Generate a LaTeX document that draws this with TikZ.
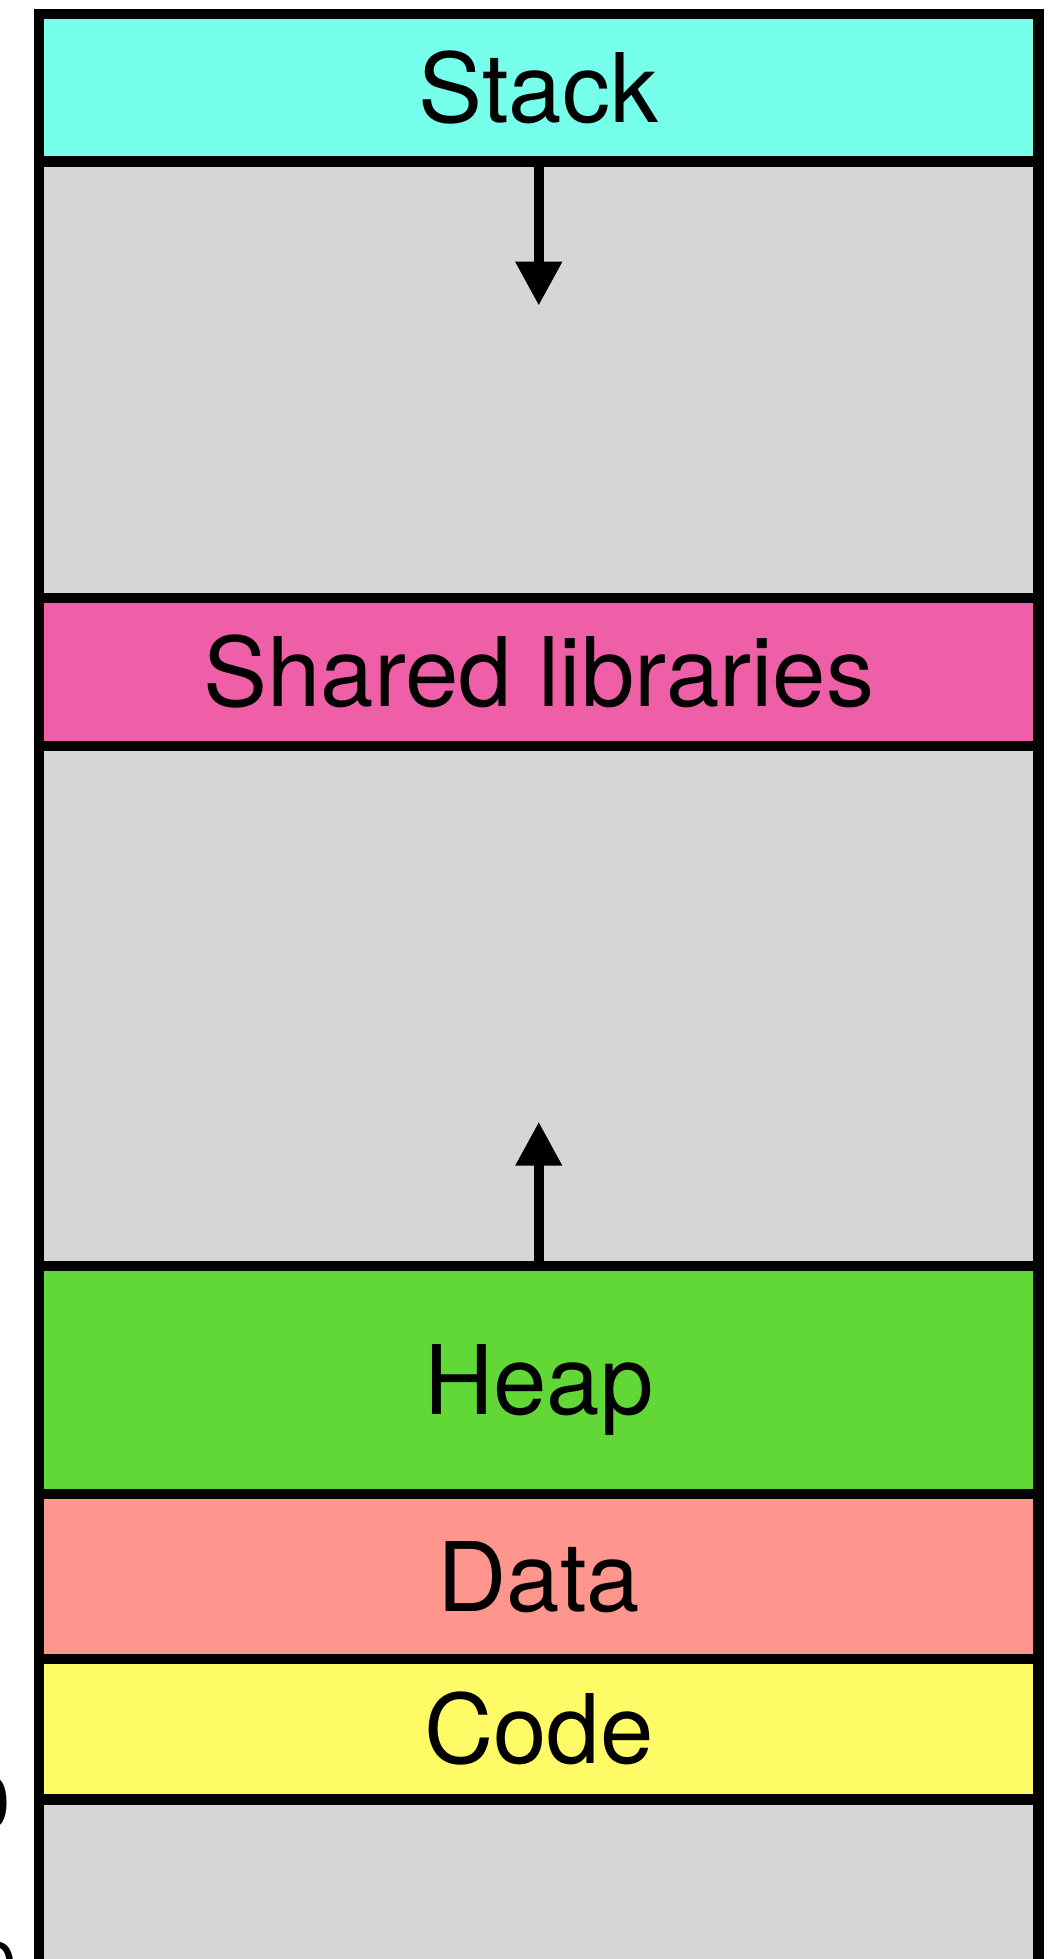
\documentclass[tikz,border=0pt]{standalone}
\usepackage{fontspec}
\setmainfont{TeX Gyre Heros}
\usetikzlibrary{arrows.meta}
\definecolor{stackc}{RGB}{118,255,234}
\definecolor{sharedc}{RGB}{239,95,167}
\definecolor{heapc}{RGB}{97,216,54}
\definecolor{datac}{RGB}{255,150,141}
\definecolor{codec}{RGB}{255,251,102}
\definecolor{gapc}{RGB}{214,214,214}
\tikzset{
  seg/.style={draw=black, line width=5.25pt, minimum width=499.75pt,
    inner sep=0pt, outer sep=0pt, text height=34.5pt, text depth=0pt,
    font=\fontsize{48}{58}\selectfont},
  growarrow/.style={line width=5.25pt, -{Triangle[length=22pt,width=22pt]}},
  addr/.style={inner sep=0pt, anchor=base west, font=\fontsize{37}{44}\selectfont}
}
\begin{document}
\begin{tikzpicture}[x=1pt,y=-1pt]
\useasboundingbox (0,0) rectangle (525,979.5);
% grey gaps
\node[seg, fill=gapc, minimum height=218.25pt] (gapA) at (269.375,189.875) {};
\node[seg, fill=gapc, minimum height=260pt] (gapB) at (269.375,503) {};
\node[seg, fill=gapc, minimum height=100.25pt] (gapC) at (269.375,949.875) {};
% segments
\node[seg, fill=stackc, minimum height=73.75pt] (stack) at (269.375,43.875) {Stack};
\node[seg, fill=sharedc, minimum height=74pt] (shared) at (269.375,336) {Shared libraries};
\node[seg, fill=heapc, minimum height=114pt] (heap) at (269.375,690) {Heap};
\node[seg, fill=datac, minimum height=82.5pt] (data) at (269.375,788.25) {Data};
\node[seg, fill=codec, minimum height=70.25pt] (code) at (269.375,864.625) {Code};
% growth arrows
\coordinate (downtip) at (269.375,152.85);
\coordinate (uptip) at (269.375,560.85);
\draw[growarrow] (stack.south) -- (downtip);
\draw[growarrow] (heap.north) -- (uptip);
% clipped address labels at the left edge
\node[addr] (zeroA) at (-15.2,914.3) {0};
\node[addr] (zeroB) at (-12.2,997) {0};
\end{tikzpicture}
\end{document}
